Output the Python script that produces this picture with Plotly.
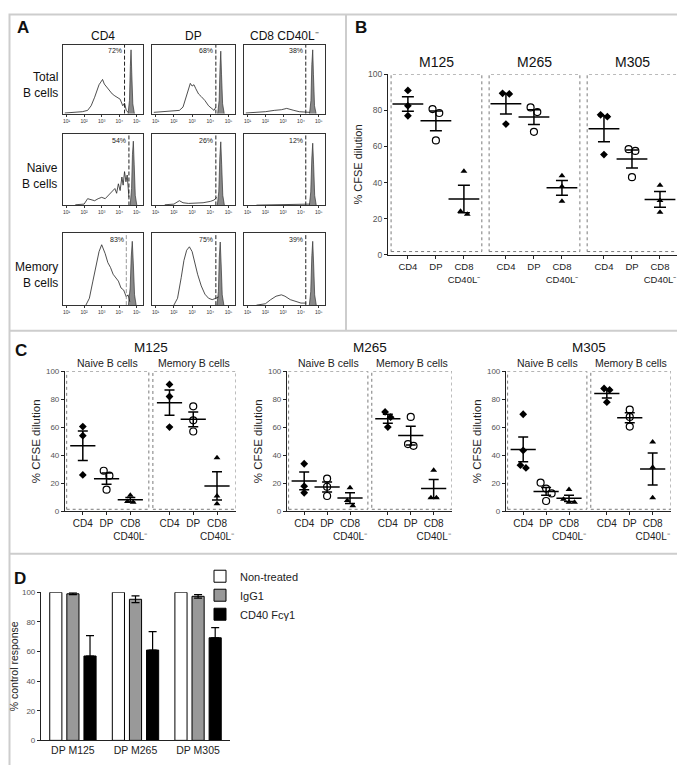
import numpy as np
import plotly.graph_objects as go

W, H = 685, 765
FONT = "Liberation Sans, Arial, Helvetica, sans-serif"

# ---------------- Panel A data: CFSE histograms (x = log10 CFSE, y = relative count) -------------
A_cols = ["CD4", "DP", "CD8 CD40L⁻"]
A_rows = ["Total<br>B cells", "Naive<br>B cells", "Memory<br>B cells"]
A_tickvals = [1, 2, 3, 4, 5]
A_ticktext = ["10¹", "10²", "10³", "10⁴", "10⁵"]

tot_cd4_x = [0.9, 1.5, 1.9, 2.2, 2.4, 2.6, 2.75, 2.85, 2.95, 3.05, 3.15, 3.3, 3.45, 3.6, 3.75, 3.9, 4.05, 4.2, 4.3, 4.4, 4.5]
tot_cd4_y = [0.01, 0.02, 0.03, 0.05, 0.12, 0.25, 0.38, 0.44, 0.48, 0.52, 0.45, 0.4, 0.34, 0.3, 0.27, 0.24, 0.22, 0.12, 0.16, 0.05, 0.02]
tot_dp_x = [0.9, 1.5, 2.0, 2.3, 2.5, 2.65, 2.8, 2.9, 3.0, 3.1, 3.2, 3.35, 3.5, 3.7, 3.9, 4.05, 4.2, 4.3]
tot_dp_y = [0.02, 0.03, 0.04, 0.05, 0.1, 0.25, 0.4, 0.46, 0.42, 0.44, 0.38, 0.3, 0.26, 0.2, 0.12, 0.08, 0.05, 0.1]
tot_cd8_x = [0.9, 1.5, 2.0, 2.5, 2.9, 3.2, 3.4, 3.6, 3.9, 4.2, 4.5]
tot_cd8_y = [0.01, 0.02, 0.03, 0.05, 0.06, 0.08, 0.07, 0.05, 0.03, 0.02, 0.02]
nai_cd4_x = [1.5, 2.0, 2.2, 2.4, 2.6, 2.8, 3.0, 3.2, 3.4, 3.6, 3.75, 3.85, 3.95, 4.05, 4.15, 4.22, 4.3, 4.38, 4.45, 4.55]
nai_cd4_y = [0.01, 0.02, 0.1, 0.08, 0.07, 0.1, 0.12, 0.1, 0.15, 0.2, 0.25, 0.18, 0.32, 0.22, 0.42, 0.3, 0.5, 0.35, 0.45, 0.12]
nai_dp_x = [1.5, 2.0, 2.3, 2.5, 2.8, 3.2, 3.6, 4.0, 4.2, 4.35]
nai_dp_y = [0.01, 0.02, 0.07, 0.04, 0.03, 0.03, 0.04, 0.06, 0.08, 0.12]
nai_cd8_x = [1.5, 2.5, 3.5, 4.2, 4.5]
nai_cd8_y = [0.005, 0.01, 0.01, 0.02, 0.02]
mem_cd4_x = [2.1, 2.3, 2.5, 2.7, 2.85, 3.0, 3.1, 3.2, 3.35, 3.5, 3.65, 3.8, 3.95, 4.1, 4.25, 4.4, 4.5, 4.6]
mem_cd4_y = [0.0, 0.1, 0.35, 0.6, 0.78, 0.88, 0.82, 0.75, 0.62, 0.55, 0.45, 0.4, 0.35, 0.25, 0.22, 0.12, 0.15, 0.05]
mem_dp_x = [2.0, 2.2, 2.4, 2.55, 2.7, 2.85, 3.0, 3.15, 3.3, 3.5, 3.7, 3.9, 4.1, 4.3, 4.45]
mem_dp_y = [0.0, 0.1, 0.4, 0.65, 0.8, 0.85, 0.78, 0.6, 0.45, 0.28, 0.16, 0.1, 0.08, 0.1, 0.12]
mem_cd8_x = [1.5, 2.0, 2.3, 2.6, 2.9, 3.1, 3.4, 3.7, 4.0, 4.3]
mem_cd8_y = [0.0, 0.02, 0.08, 0.13, 0.15, 0.13, 0.08, 0.05, 0.03, 0.03]

tot_cd4_pk_x = [4.50, 4.58, 4.63, 4.67, 4.71, 4.77, 4.86]
tot_cd4_pk_y = [0, 0.2, 0.72, 0.97, 0.62, 0.15, 0]
tot_dp_pk_x = [4.40, 4.48, 4.53, 4.57, 4.61, 4.67, 4.76]
tot_dp_pk_y = [0, 0.2, 0.7, 0.95, 0.6, 0.15, 0]
tot_cd8_pk_x = [4.48, 4.56, 4.61, 4.66, 4.70, 4.76, 4.85]
tot_cd8_pk_y = [0, 0.2, 0.75, 0.97, 0.6, 0.12, 0]
nai_cd4_pk_x = [4.62, 4.70, 4.75, 4.80, 4.85, 4.91, 5.0]
nai_cd4_pk_y = [0, 0.25, 0.75, 0.95, 0.6, 0.15, 0]
nai_dp_pk_x = [4.38, 4.46, 4.52, 4.57, 4.62, 4.68, 4.77]
nai_dp_pk_y = [0, 0.2, 0.72, 0.94, 0.6, 0.15, 0]
nai_cd8_pk_x = [4.47, 4.55, 4.61, 4.66, 4.71, 4.77, 4.86]
nai_cd8_pk_y = [0, 0.2, 0.7, 0.92, 0.6, 0.15, 0]
mem_cd4_pk_x = [4.52, 4.62, 4.68, 4.74, 4.80, 4.87, 4.96]
mem_cd4_pk_y = [0, 0.25, 0.7, 0.93, 0.6, 0.15, 0]
mem_dp_pk_x = [4.36, 4.44, 4.49, 4.54, 4.59, 4.65, 4.74]
mem_dp_pk_y = [0, 0.2, 0.7, 0.92, 0.6, 0.15, 0]
mem_cd8_pk_x = [4.47, 4.55, 4.61, 4.66, 4.71, 4.77, 4.86]
mem_cd8_pk_y = [0, 0.2, 0.72, 0.93, 0.6, 0.15, 0]

A_gate = [4.3, 4.3, 4.27, 4.55, 4.3, 4.27, 4.4, 4.3, 4.27]
A_pct = ["72%", "68%", "38%", "54%", "26%", "12%", "83%", "75%", "39%"]

# ---------------- Panel B data: % CFSE dilution ----------------
B_donors = ["M125", "M265", "M305"]
B_cats = ["CD4", "DP", "CD8<br>CD40L⁻"]
B_m125_cd4 = [91.0, 82.5, 77.0]
B_m125_dp = [80.7, 78.5, 63.3]
B_m125_cd8 = [46.2, 24.1, 22.4]
B_m265_cd4 = [89.4, 89.1, 72.4]
B_m265_dp = [81.6, 79.0, 68.1]
B_m265_cd8 = [43.8, 37.8, 29.6]
B_m305_cd4 = [77.5, 76.5, 55.5]
B_m305_dp = [58.5, 57.5, 43.0]
B_m305_cd8 = [38.5, 30.0, 23.5]

# ---------------- Panel C data: naive / memory B cells ----------------
C_subsets = ["Naive B cells", "Memory B cells"]
C_m125_naive_cd4 = [60.5, 54.0, 26.0]
C_m125_naive_dp = [29.0, 25.5, 15.5]
C_m125_naive_cd8 = [11.5, 7.0, 6.5]
C_m125_mem_cd4 = [90.6, 82.0, 60.2]
C_m125_mem_dp = [75.0, 65.0, 57.0]
C_m125_mem_cd8 = [38.2, 11.0, 5.4]
C_m265_naive_cd4 = [34.0, 18.0, 13.3]
C_m265_naive_dp = [23.4, 17.6, 11.0]
C_m265_naive_cd8 = [16.9, 7.7, 4.0]
C_m265_mem_cd4 = [71.0, 67.2, 60.2]
C_m265_mem_dp = [67.4, 48.0, 46.8]
C_m265_mem_cd8 = [29.3, 9.8, 9.8]
C_m305_naive_cd4 = [69.3, 43.5, 33.0, 31.0]
C_m305_naive_dp = [20.5, 16.3, 12.8, 7.4]
C_m305_naive_cd8 = [15.6, 8.6, 6.5, 6.5]
C_m305_mem_cd4 = [87.7, 86.7, 77.9]
C_m305_mem_dp = [72.6, 67.4, 60.5]
C_m305_mem_cd8 = [49.5, 31.5, 9.8]

# ---------------- Panel D data: % control response ----------------
D_groups = ["DP M125", "DP M265", "DP M305"]
D_nontreated = [100, 100, 100]
D_igg1 = [99.0, 95.3, 97.3]
D_igg1_err = [0.6, 2.3, 1.2]
D_cd40 = [57.0, 61.0, 69.3]
D_cd40_err = [13.7, 12.5, 6.8]


# ======================== helpers (layout only) ========================
def dom_x(a, b):
    return [a / W, b / W]


def dom_y(top, bottom):
    return [1 - bottom / H, 1 - top / H]


def px(p):
    return p / W


def py(p):
    return 1 - p / H


def ax_ref(n):
    return ("x" if n == 1 else f"x{n}"), ("y" if n == 1 else f"y{n}")


def ax_key(n):
    return ("xaxis" if n == 1 else f"xaxis{n}"), ("yaxis" if n == 1 else f"yaxis{n}")


def swarm(vals, thresh, step):
    order = sorted(range(len(vals)), key=lambda i: -vals[i])
    clusters = []
    for i in order:
        if clusters and abs(vals[clusters[-1][-1]] - vals[i]) < thresh:
            clusters[-1].append(i)
        else:
            clusters.append([i])
    off = [0.0] * len(vals)
    for c in clusters:
        m = len(c)
        for k, i in enumerate(c):
            off[i] = (k - (m - 1) / 2) * step
    return off


fig = go.Figure()
layout = dict(
    width=W, height=H, autosize=False,
    margin=dict(l=0, r=0, t=0, b=0),
    paper_bgcolor="white", plot_bgcolor="rgba(0,0,0,0)",
    font=dict(family=FONT, color="#222", size=10),
    showlegend=True,
    barmode="group", bargap=0.18, bargroupgap=0.29,
)
annotations = []
shapes = []

# Frame lines
FR = "#cdcdcd"
shapes.append(dict(type="rect", xref="paper", yref="paper", x0=px(1.5), x1=px(683.5), y0=py(763.5), y1=py(1.5),
                   line=dict(color=FR, width=2)))
shapes.append(dict(type="line", xref="paper", yref="paper", x0=px(338), x1=px(338), y0=py(322), y1=py(1.5),
                   line=dict(color=FR, width=2)))
for yy in (322, 548):
    shapes.append(dict(type="line", xref="paper", yref="paper", x0=px(1.5), x1=px(683.5), y0=py(yy), y1=py(yy),
                       line=dict(color=FR, width=2)))


def label(text, x, y, size, bold=False, xanchor="center", yanchor="middle", align="center", color="#111"):
    annotations.append(dict(text=f"<b>{text}</b>" if bold else text, x=px(x), y=py(y), xref="paper", yref="paper",
                            showarrow=False, xanchor=xanchor, yanchor=yanchor, align=align,
                            font=dict(size=size, color=color, family=FONT)))


# ======================== Panel A ========================
A_open_x = [tot_cd4_x, tot_dp_x, tot_cd8_x, nai_cd4_x, nai_dp_x, nai_cd8_x, mem_cd4_x, mem_dp_x, mem_cd8_x]
A_open_y = [tot_cd4_y, tot_dp_y, tot_cd8_y, nai_cd4_y, nai_dp_y, nai_cd8_y, mem_cd4_y, mem_dp_y, mem_cd8_y]
A_pk_x = [tot_cd4_pk_x, tot_dp_pk_x, tot_cd8_pk_x, nai_cd4_pk_x, nai_dp_pk_x, nai_cd8_pk_x,
          mem_cd4_pk_x, mem_dp_pk_x, mem_cd8_pk_x]
A_pk_y = [tot_cd4_pk_y, tot_dp_pk_y, tot_cd8_pk_y, nai_cd4_pk_y, nai_dp_pk_y, nai_cd8_pk_y,
          mem_cd4_pk_y, mem_dp_pk_y, mem_cd8_pk_y]
A_col_px = [(55, 135), (144, 227), (236, 317)]
A_row_px = [(32, 102), (123, 195), (223, 296)]
A_YMAX = 1.05

label("A", 15, 15, 17, bold=True)
for c, t in enumerate(A_cols):
    label(t, (A_col_px[c][0] + A_col_px[c][1]) / 2, 23, 12)
for r, t in enumerate(A_rows):
    label(t, 52, (A_row_px[r][0] + A_row_px[r][1]) / 2 + 6, 12, xanchor="right", align="right")

for k in range(9):
    r, c = divmod(k, 3)
    n = k + 1
    xr, yr = ax_ref(n)
    xk, yk = ax_key(n)
    layout[xk] = dict(domain=dom_x(*A_col_px[c]), range=[0.8, 5.35], anchor=yr, showgrid=False, zeroline=False,
                      showline=True, mirror=True, linecolor="#333", linewidth=0.8,
                      ticks="outside", ticklen=2, tickwidth=0.6, tickcolor="#333", tickangle=0,
                      tickvals=A_tickvals, ticktext=A_ticktext, tickfont=dict(size=5, color="#333"))
    layout[yk] = dict(domain=dom_y(*A_row_px[r]), range=[0, A_YMAX], anchor=xr, showgrid=False, zeroline=False,
                      showline=True, mirror=True, linecolor="#333", linewidth=0.8,
                      showticklabels=False, ticks="")
    fig.add_trace(go.Scatter(x=A_pk_x[k], y=A_pk_y[k], mode="lines", fill="tozeroy", fillcolor="#8a8a8a",
                             line=dict(color="#333", width=0.7), xaxis=xr, yaxis=yr,
                             showlegend=False, hoverinfo="skip"))
    fig.add_trace(go.Scatter(x=A_open_x[k], y=A_open_y[k], mode="lines",
                             line=dict(color="#222", width=0.8), xaxis=xr, yaxis=yr,
                             showlegend=False, hoverinfo="skip"))
    gate_col = "#999" if k == 6 else "#222"
    fig.add_trace(go.Scatter(x=[A_gate[k], A_gate[k]], y=[0, A_YMAX], mode="lines",
                             line=dict(color=gate_col, width=1, dash="4px,2px"), xaxis=xr, yaxis=yr,
                             showlegend=False, hoverinfo="skip"))
    annotations.append(dict(text=A_pct[k], x=A_gate[k] - 0.04, y=A_YMAX * 0.99, xref=xr, yref=yr,
                            showarrow=False, xanchor="right", yanchor="top",
                            font=dict(size=7, color="#222", family=FONT)))

# ======================== scatter panels (B, C) ========================
SYMS = ["diamond", "circle-open", "triangle-up"]
SIZES = [6, 7, 6]


def dot_panel(n, groups, group_step, px_per_unit, mean_size, cap):
    xr, yr = ax_ref(n)
    for g, cat_lists in enumerate(groups):
        for j, vals in enumerate(cat_lists):
            xc = g * group_step + j
            off = swarm(vals, 6.0 / px_per_unit, 0.24)
            fig.add_trace(go.Scatter(
                x=[xc + o for o in off], y=vals, mode="markers",
                marker=dict(symbol=SYMS[j], size=SIZES[j], color="black",
                            line=dict(color="black", width=1.2 if j == 1 else 0)),
                xaxis=xr, yaxis=yr, showlegend=False, hoverinfo="skip"))
            arr = np.array(vals, dtype=float)
            mean = float(arr.mean())
            sem = float(arr.std(ddof=1) / np.sqrt(len(arr)))
            fig.add_trace(go.Scatter(
                x=[xc], y=[mean], mode="markers",
                marker=dict(symbol="line-ew", size=mean_size, color="black", line=dict(color="black", width=1.5)),
                error_y=dict(type="data", array=[sem], visible=True, width=cap, thickness=1.5, color="black"),
                xaxis=xr, yaxis=yr, showlegend=False, hoverinfo="skip"))


def dotted_box(n, x0, x1, y0, y1):
    xr, yr = ax_ref(n)
    shapes.append(dict(type="rect", xref=xr, yref=yr, x0=x0, x1=x1, y0=y0, y1=y1,
                       line=dict(color="#7a7a7a", width=1, dash="dot"), layer="below"))


# ---- Panel B ----
label("B", 353, 15, 17, bold=True)
nB = 10
B_STEP = 3.5
B_BOX = (-0.6, 2.64)
xrB, yrB = ax_ref(nB)
xkB, ykB = ax_key(nB)
B_tickvals = [g * B_STEP + j for g in range(3) for j in range(3)]
layout[xkB] = dict(domain=dom_x(380, 673), range=[-0.71, 9.75], anchor=yrB, showgrid=False, zeroline=False,
                   showline=True, linecolor="#222", linewidth=1.2, ticks="outside", ticklen=3, tickcolor="#222",
                   tickangle=0, tickvals=B_tickvals, ticktext=B_cats * 3, tickfont=dict(size=9.5, color="#222"))
layout[ykB] = dict(domain=dom_y(62, 245), range=[0, 100], anchor=xrB, showgrid=False, zeroline=False,
                   showline=True, linecolor="#222", linewidth=1.2, ticks="outside", ticklen=3, tickcolor="#222",
                   dtick=20, tickfont=dict(size=8.5, color="#555"),
                   title=dict(text="% CFSE dilution", font=dict(size=11, color="#222"), standoff=3))
B_groups = [[B_m125_cd4, B_m125_dp, B_m125_cd8],
            [B_m265_cd4, B_m265_dp, B_m265_cd8],
            [B_m305_cd4, B_m305_dp, B_m305_cd8]]
for g, d in enumerate(B_donors):
    x0, x1 = B_BOX[0] + g * B_STEP, B_BOX[1] + g * B_STEP
    dotted_box(nB, x0, x1, 1.8, 100)
    annotations.append(dict(text=d, x=(x0 + x1) / 2, y=py(50), xref=xrB, yref="paper", showarrow=False,
                            xanchor="center", yanchor="middle", font=dict(size=14, color="#111", family=FONT)))
dot_panel(nB, B_groups, B_STEP, 1.83, 22, 6)

# ---- Panel C ----
label("C", 13, 342, 17, bold=True)
C_STEP = 3.65
C_BOXES = [(-0.68, 2.78), (2.95, 6.45)]
C_px = [(57, 228), (279, 444), (498, 663)]
C_donors = ["M125", "M265", "M305"]
C_groups = [
    [[C_m125_naive_cd4, C_m125_naive_dp, C_m125_naive_cd8], [C_m125_mem_cd4, C_m125_mem_dp, C_m125_mem_cd8]],
    [[C_m265_naive_cd4, C_m265_naive_dp, C_m265_naive_cd8], [C_m265_mem_cd4, C_m265_mem_dp, C_m265_mem_cd8]],
    [[C_m305_naive_cd4, C_m305_naive_dp, C_m305_naive_cd8], [C_m305_mem_cd4, C_m305_mem_dp, C_m305_mem_cd8]],
]
C_tickvals = [g * C_STEP + j for g in range(2) for j in range(3)]
for i in range(3):
    n = 11 + i
    xr, yr = ax_ref(n)
    xk, yk = ax_key(n)
    layout[xk] = dict(domain=dom_x(*C_px[i]), range=[-0.75, 6.45], anchor=yr, showgrid=False, zeroline=False,
                      showline=True, linecolor="#222", linewidth=1.2, ticks="outside", ticklen=3, tickcolor="#222",
                      tickangle=0, tickvals=C_tickvals, ticktext=B_cats * 2, tickfont=dict(size=10, color="#222"))
    layout[yk] = dict(domain=dom_y(363, 505), range=[0, 100], anchor=xr, showgrid=False, zeroline=False,
                      showline=True, linecolor="#222", linewidth=1.2, ticks="outside", ticklen=3, tickcolor="#222",
                      dtick=20, tickfont=dict(size=8, color="#555"),
                      title=dict(text="% CFSE dilution", font=dict(size=11.5, color="#222"), standoff=2))
    for b, (x0, x1) in enumerate(C_BOXES):
        dotted_box(n, x0, x1, 1.5, 100)
        annotations.append(dict(text=C_subsets[b], x=(x0 + x1) / 2, y=py(355), xref=xr, yref="paper",
                                showarrow=False, xanchor="center", yanchor="middle",
                                font=dict(size=10.5, color="#222", family=FONT)))
    annotations.append(dict(text=C_donors[i], x=(C_BOXES[0][0] + C_BOXES[1][1]) / 2, y=py(339), xref=xr,
                            yref="paper", showarrow=False, xanchor="center", yanchor="middle",
                            font=dict(size=13.5, color="#111", family=FONT)))
    dot_panel(n, C_groups[i], C_STEP, 1.42, 18, 5)

# ======================== Panel D ========================
label("D", 12, 573, 17, bold=True)
nD = 14
xrD, yrD = ax_ref(nD)
xkD, ykD = ax_key(nD)
layout[xkD] = dict(domain=dom_x(33, 222), range=[-0.51, 2.51], anchor=yrD, showgrid=False, zeroline=False,
                   type="category", showline=True, linecolor="#222", linewidth=1.2, ticks="", tickangle=0,
                   tickfont=dict(size=10.5, color="#222"))
layout[ykD] = dict(domain=dom_y(587, 737), range=[0, 100], anchor=xrD, showgrid=False, zeroline=False,
                   showline=True, linecolor="#222", linewidth=1.2, ticks="outside", ticklen=3, tickcolor="#222",
                   dtick=20, tickfont=dict(size=8, color="#555"),
                   title=dict(text="% control response", font=dict(size=10.5, color="#222"), standoff=3))
fig.add_trace(go.Bar(x=D_groups, y=D_nontreated, name="Non-treated", marker=dict(color="white",
                     line=dict(color="black", width=1)), xaxis=xrD, yaxis=yrD, hoverinfo="skip"))
fig.add_trace(go.Bar(x=D_groups, y=D_igg1, name="IgG1", marker=dict(color="#999999",
                     line=dict(color="black", width=1)),
                     error_y=dict(type="data", array=D_igg1_err, visible=True, width=4, thickness=1.2, color="black"),
                     xaxis=xrD, yaxis=yrD, hoverinfo="skip"))
fig.add_trace(go.Bar(x=D_groups, y=D_cd40, name="CD40 Fcγ1", marker=dict(color="black",
                     line=dict(color="black", width=1)),
                     error_y=dict(type="data", array=D_cd40_err, arrayminus=[0, 0, 0], visible=True, width=4,
                                  thickness=1.2, color="black"),
                     xaxis=xrD, yaxis=yrD, hoverinfo="skip"))

layout["legend"] = dict(x=px(192), y=py(556), xanchor="left", yanchor="top", bgcolor="rgba(0,0,0,0)",
                        font=dict(size=11, color="#222", family=FONT), tracegroupgap=0, itemclick=False)

layout["annotations"] = annotations
layout["shapes"] = shapes
fig.update_layout(**layout)
fig.write_html("out.html")
